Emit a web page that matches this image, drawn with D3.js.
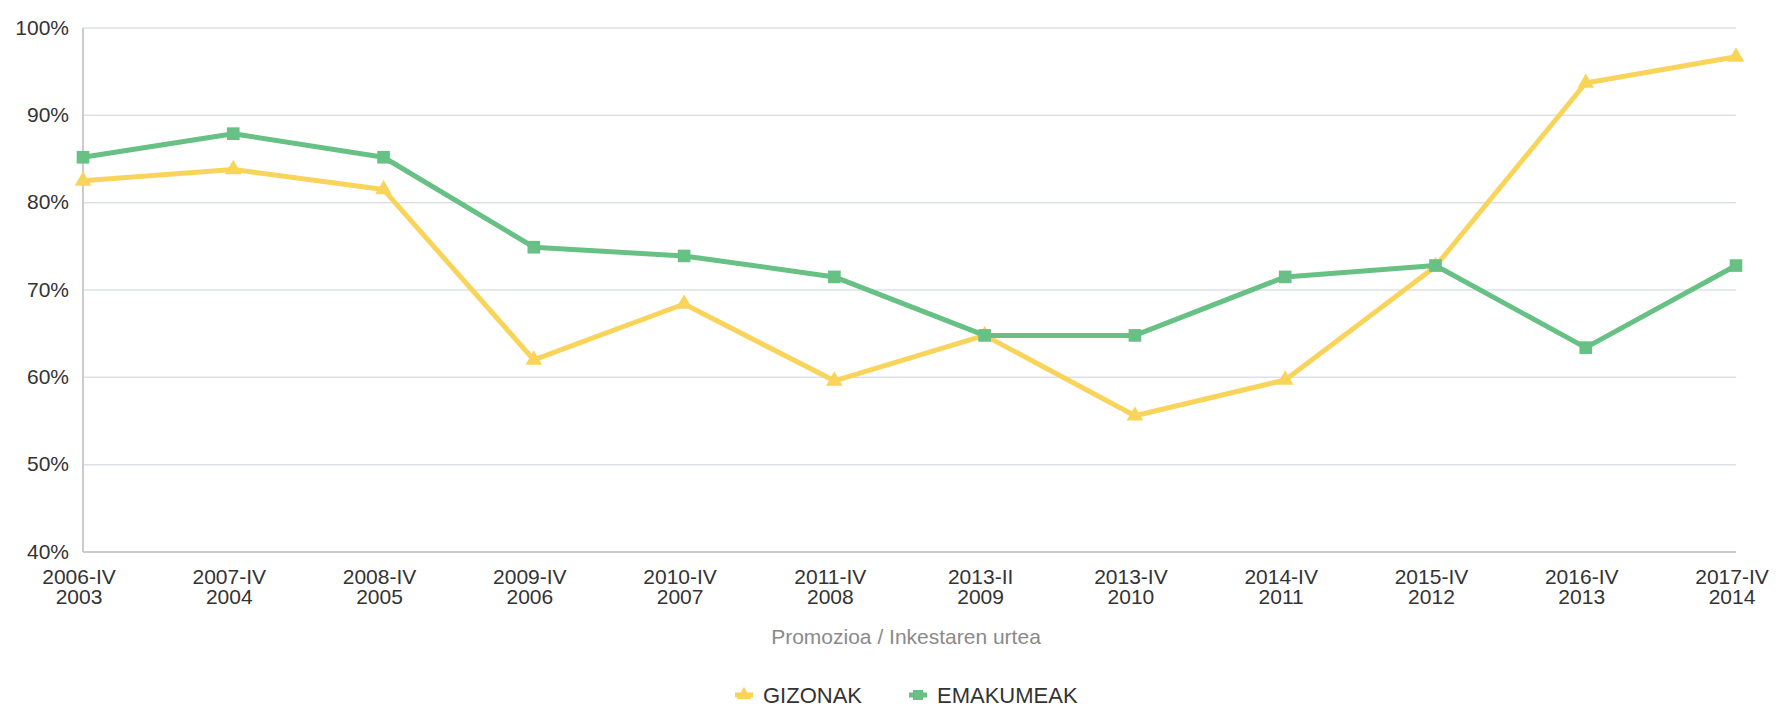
<!DOCTYPE html>
<html>
<head>
<meta charset="utf-8">
<script src="https://cdn.jsdelivr.net/npm/d3@7"></script>
<style>
  html, body { margin: 0; padding: 0; background: #fff; }
  text { font-family: "Liberation Sans", Arial, sans-serif; }
</style>
</head>
<body>
<svg></svg>
<script>
var width = 1781;
var height = 707;

// data
var promozioa = ["2006-IV", "2007-IV", "2008-IV", "2009-IV", "2010-IV", "2011-IV",
                 "2013-II", "2013-IV", "2014-IV", "2015-IV", "2016-IV", "2017-IV"];
var urtea = ["2003", "2004", "2005", "2006", "2007", "2008",
             "2009", "2010", "2011", "2012", "2013", "2014"];
var gizonak = [82.5, 83.8, 81.5, 62.0, 68.4, 59.6, 64.8, 55.6, 59.7, 72.7, 93.7, 96.7];
var emakumeak = [85.2, 87.9, 85.2, 74.9, 73.9, 71.5, 64.8, 64.8, 71.5, 72.8, 63.4, 72.8];
var yTicks = [40, 50, 60, 70, 80, 90, 100];

var series = [
  { name: "GIZONAK", values: gizonak, color: "#f9d45b", symbol: d3.symbolTriangle },
  { name: "EMAKUMEAK", values: emakumeak, color: "#67c184", symbol: d3.symbolSquare }
];

var svg = d3.select('svg')
    .attr('width', width)
    .attr('height', height);

var x = d3.scalePoint()
    .domain(promozioa)
    .range([83, 1736]);

var y = d3.scaleLinear()
    .domain([40, 100])
    .range([552, 28]);

// gridlines
svg.append('g')
  .selectAll('line')
  .data(yTicks.slice(1))
  .enter()
  .append('line')
    .attr('x1', x.range()[0])
    .attr('x2', x.range()[1])
    .attr('y1', function (d) { return y(d); })
    .attr('y2', function (d) { return y(d); })
    .attr('stroke', '#dde1e7')
    .attr('stroke-width', 1.5);

// y axis labels
var yAxis = d3.axisLeft(y)
    .tickValues(yTicks)
    .tickFormat(function (d) { return d + '%'; })
    .tickSize(0)
    .tickPadding(14);

var gy = svg.append('g')
    .attr('transform', 'translate(' + x.range()[0] + ',0)')
    .call(yAxis);
gy.select('.domain').remove();
gy.selectAll('text')
    .attr('font-size', 21)
    .attr('fill', '#333')
    .attr('dy', '0.3em');

// axis lines
svg.append('line')
    .attr('x1', x.range()[0]).attr('x2', x.range()[0])
    .attr('y1', y(100)).attr('y2', y(40))
    .attr('stroke', '#cccccc').attr('stroke-width', 2);
svg.append('line')
    .attr('x1', x.range()[0]).attr('x2', x.range()[1])
    .attr('y1', y(40)).attr('y2', y(40))
    .attr('stroke', '#cccccc').attr('stroke-width', 2);

// x labels (two lines)
var xl = svg.append('g')
  .selectAll('text')
  .data(promozioa)
  .enter()
  .append('text')
    .attr('text-anchor', 'middle')
    .attr('font-size', 21)
    .attr('fill', '#333');
xl.append('tspan')
    .attr('x', function (d) { return x(d) - 4; })
    .attr('y', 584)
    .text(function (d) { return d; });
xl.append('tspan')
    .attr('x', function (d) { return x(d) - 4; })
    .attr('y', 604)
    .text(function (d, i) { return urtea[i]; });

svg.append('text')
    .attr('x', 906)
    .attr('y', 644)
    .attr('text-anchor', 'middle')
    .attr('font-size', 21)
    .attr('fill', '#8a8a8a')
    .text('Promozioa / Inkestaren urtea');

// lines + markers
var line = d3.line()
    .x(function (d, i) { return x(promozioa[i]); })
    .y(function (d) { return y(d); });

series.forEach(function (s) {
  svg.append('path')
      .datum(s.values)
      .attr('d', line)
      .attr('fill', 'none')
      .attr('stroke', s.color)
      .attr('stroke-width', 5)
      .attr('stroke-linejoin', 'round');

  svg.append('g')
    .selectAll('path')
    .data(s.values)
    .enter()
    .append('path')
      .attr('d', d3.symbol().type(s.symbol).size(s.symbol === d3.symbolSquare ? 160 : 120))
      .attr('transform', function (d, i) { return 'translate(' + x(promozioa[i]) + ',' + y(d) + ')'; })
      .attr('fill', s.color);
});

// legend
var legendX = [744, 918];
var lg = svg.append('g')
  .selectAll('g')
  .data(series)
  .enter()
  .append('g')
    .attr('transform', function (d, i) { return 'translate(' + legendX[i] + ',695)'; });
lg.append('line')
    .attr('x1', -9).attr('x2', 9)
    .attr('stroke', function (d) { return d.color; })
    .attr('stroke-width', 5);
lg.append('path')
    .attr('d', function (d) { return d3.symbol().type(d.symbol).size(d.symbol === d3.symbolSquare ? 100 : 90)(); })
    .attr('fill', function (d) { return d.color; });
lg.append('text')
    .attr('x', 19)
    .attr('y', 7.5)
    .attr('font-size', 22)
    .attr('fill', '#333')
    .text(function (d) { return d.name; });
</script>
</body>
</html>
